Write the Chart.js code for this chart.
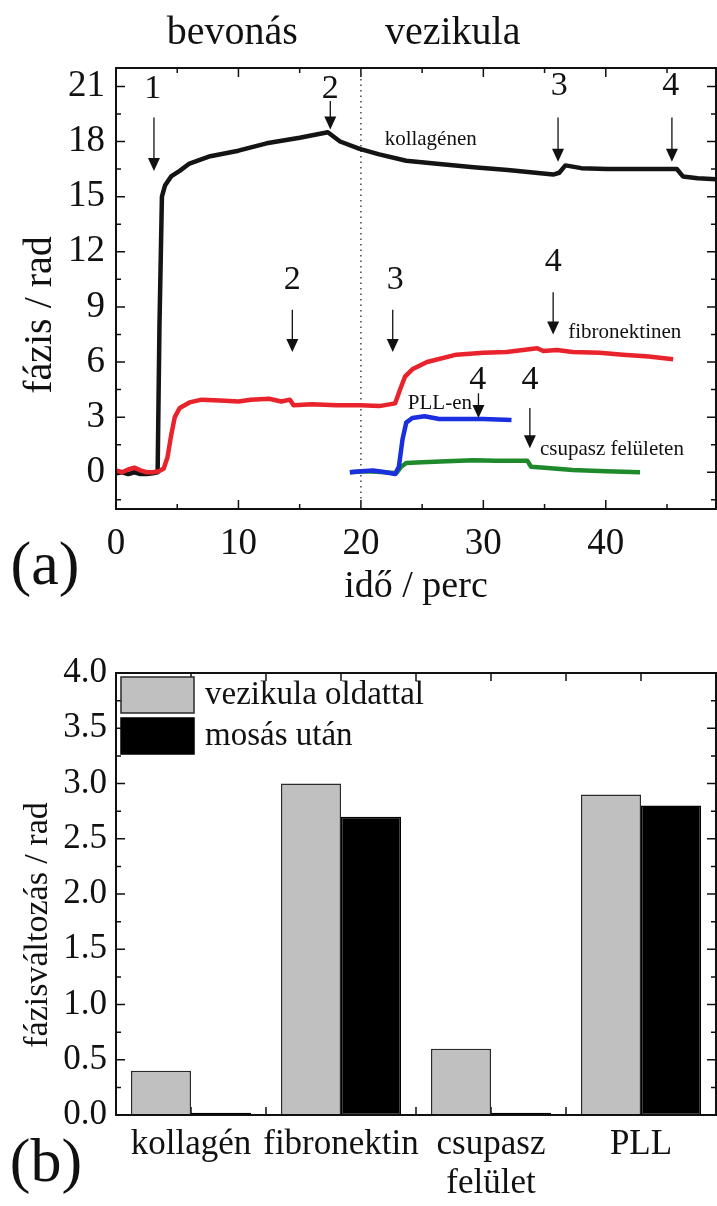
<!DOCTYPE html>
<html lang="hu">
<head>
<meta charset="utf-8">
<title>fázis / rad</title>
<script src="https://cdn.jsdelivr.net/npm/chart.js@4.4.1/dist/chart.umd.min.js"></script>
<style>
  html, body { margin: 0; padding: 0; background: #fff; }
  body { width: 717px; height: 1206px; position: relative; overflow: hidden; }
  #chart-time { position: absolute; left: 0; top: 0; }
  #chart-bars { position: absolute; left: 0; top: 620px; }
</style>
</head>
<body>
<canvas id="chart-time" width="717" height="620"></canvas>
<canvas id="chart-bars" width="717" height="586"></canvas>
<script>
var SERIF = "'Liberation Serif', 'Times New Roman', serif";
var INK = "#111";

// (a) fázis az idő függvényében
var kollagenTime  = [0, 0.5, 1, 1.5, 2, 2.5, 3, 3.4, 3.55, 3.75, 4, 4.5, 5.2, 6, 7.7, 10, 12.3, 15, 17.3, 18.3, 19.9, 21.5, 23.7, 26, 29.2, 32, 35.7, 36.2, 36.7, 38, 40.1, 43, 45.8, 46.3, 47.5, 49];
var kollagenPhase = [-0.05, 0, -0.1, 0, -0.1, -0.1, -0.05, 0, 8, 15, 15.6, 16.1, 16.4, 16.8, 17.2, 17.5, 17.9, 18.2, 18.5, 18.0, 17.6, 17.3, 16.95, 16.8, 16.6, 16.45, 16.2, 16.3, 16.7, 16.55, 16.5, 16.5, 16.5, 16.1, 16.0, 15.95];

var fibronektinTime  = [0, 0.5, 1, 1.5, 2, 2.5, 3, 3.5, 3.9, 4.2, 4.5, 4.8, 5.2, 6, 7, 8.5, 10, 11, 12.5, 13.5, 14.2, 14.5, 16, 18, 20, 21.5, 22.8, 23.2, 23.6, 24.2, 25.4, 27.8, 30, 31.9, 34.4, 34.9, 36, 37.3, 39.5, 41.4, 43.5, 45.5];
var fibronektinPhase = [0.1, 0, 0.15, 0.25, 0.1, 0, 0, 0.05, 0.2, 0.8, 2.0, 3.0, 3.5, 3.8, 3.95, 3.9, 3.85, 3.95, 4.0, 3.85, 3.95, 3.65, 3.7, 3.65, 3.65, 3.6, 3.75, 4.5, 5.2, 5.6, 6.0, 6.4, 6.5, 6.55, 6.75, 6.6, 6.65, 6.55, 6.5, 6.4, 6.3, 6.15];

var pllTime  = [19.1, 20, 21, 22, 22.8, 23.1, 23.4, 23.7, 24.2, 25.2, 26.4, 28, 30, 32.3];
var pllPhase = [0, 0.05, 0.1, 0, -0.1, 0.3, 1.8, 2.7, 2.95, 3.05, 2.9, 2.9, 2.9, 2.85];

var bareTime  = [19.1, 20.5, 22, 22.9, 23.3, 23.7, 25, 27, 29.2, 31, 33.6, 33.9, 35, 37.3, 40, 42.8];
var barePhase = [0, 0.05, 0, -0.05, 0.3, 0.5, 0.55, 0.6, 0.65, 0.62, 0.62, 0.3, 0.25, 0.12, 0.05, 0];

var timeTicks = [0, 10, 20, 30, 40];
var timeMinorTicks = [5, 15, 25, 35, 45];
var phaseTicks = [0, 3, 6, 9, 12, 15, 18, 21];
var phaseMinorTicks = [-1.5, 1.5, 4.5, 7.5, 10.5, 13.5, 16.5, 19.5];
var vesicleStart = 20;

// (b) fázisváltozás felületenként
var surfaces = ["kollagén", "fibronektin", ["csupasz", "felület"], "PLL"];
var withVesicle = [0.4, 3.0, 0.6, 2.9];
var afterWash = [0.02, 2.7, 0.02, 2.8];
var shiftTicks = [0, 0.5, 1.0, 1.5, 2.0, 2.5, 3.0, 3.5, 4.0];
var shiftMinorTicks = [0.25, 0.75, 1.25, 1.75, 2.25, 2.75, 3.25, 3.75];
var surfaceTicks = [0, 0.5, 1, 1.5, 2, 2.5, 3];

// annotations on (a), in data units
var stepLabels = [
  { text: "1", t: 3.0, v: 20.85 },
  { text: "2", t: 17.5, v: 20.85 },
  { text: "3", t: 36.2, v: 21.0 },
  { text: "4", t: 45.3, v: 21.0 },
  { text: "2", t: 14.4, v: 10.45 },
  { text: "3", t: 22.8, v: 10.45 },
  { text: "4", t: 35.7, v: 11.45 },
  { text: "4", t: 29.55, v: 5.0 },
  { text: "4", t: 33.8, v: 5.0 }
];
var stepArrows = [
  { t: 3.1, from: 19.3, to: 16.4 },
  { t: 17.5, from: 20.2, to: 18.65 },
  { t: 36.1, from: 19.3, to: 16.9 },
  { t: 45.4, from: 19.3, to: 16.9 },
  { t: 14.4, from: 8.84, to: 6.55 },
  { t: 22.6, from: 8.84, to: 6.55 },
  { t: 35.7, from: 9.8, to: 7.5 },
  { t: 29.6, from: 4.3, to: 2.95 },
  { t: 33.8, from: 3.5, to: 1.3 }
];
var curveNames = [
  { text: "kollagénen", t: 25.7, v: 18.1 },
  { text: "fibronektinen", t: 41.55, v: 7.6 },
  { text: "PLL-en", t: 26.45, v: 3.75 },
  { text: "csupasz felületen", t: 40.5, v: 1.25 }
];
var phases = [
  { text: "bevonás", t: 9.5 },
  { text: "vezikula", t: 27.5 }
];

Chart.defaults.font.family = SERIF;
Chart.defaults.color = INK;

function points(xs, ys) {
  return xs.map(function (x, i) { return { x: x, y: ys[i] }; });
}

function series(label, xs, ys, color) {
  return {
    label: label,
    data: points(xs, ys),
    borderColor: color,
    backgroundColor: color,
    borderWidth: 4.5,
    pointRadius: 0,
    tension: 0,
    borderJoinStyle: "round"
  };
}

function fixedTicks(values) {
  return function (scale) {
    scale.ticks = values.map(function (v) { return { value: v }; });
  };
}

function drawTickMarks(ctx, area, xScale, yScale, spec) {
  ctx.save();
  ctx.strokeStyle = INK;
  ctx.lineWidth = 1.5;
  ctx.beginPath();
  spec.x.forEach(function (item) {
    var px = xScale.getPixelForValue(item[0]);
    var len = item[1];
    ctx.moveTo(px, area.bottom);
    ctx.lineTo(px, area.bottom - len);
    ctx.moveTo(px, area.top);
    ctx.lineTo(px, area.top + len);
  });
  spec.y.forEach(function (item) {
    var py = yScale.getPixelForValue(item[0]);
    var len = item[1];
    ctx.moveTo(area.left, py);
    ctx.lineTo(area.left + len, py);
    ctx.moveTo(area.right, py);
    ctx.lineTo(area.right - len, py);
  });
  ctx.stroke();
  ctx.restore();
}

function drawFrame(ctx, area) {
  ctx.save();
  ctx.strokeStyle = INK;
  ctx.lineWidth = 2;
  ctx.strokeRect(area.left, area.top, area.right - area.left, area.bottom - area.top);
  ctx.restore();
}

function drawRotatedTitle(ctx, text, x, y, size) {
  ctx.save();
  ctx.translate(x, y);
  ctx.rotate(-Math.PI / 2);
  ctx.font = size + "px " + SERIF;
  ctx.fillStyle = INK;
  ctx.textAlign = "center";
  ctx.textBaseline = "middle";
  ctx.fillText(text, 0, 0);
  ctx.restore();
}

function drawArrow(ctx, x, y0, y1) {
  var head = 13;
  ctx.beginPath();
  ctx.moveTo(x, y0);
  ctx.lineTo(x, y1 - head + 1);
  ctx.stroke();
  ctx.beginPath();
  ctx.moveTo(x - 6, y1 - head);
  ctx.lineTo(x + 6, y1 - head);
  ctx.lineTo(x, y1);
  ctx.closePath();
  ctx.fill();
}

var timeDecor = {
  id: "timeDecor",
  beforeDatasetsDraw: function (chart) {
    var ctx = chart.ctx, area = chart.chartArea;
    var xs = chart.scales.x, ys = chart.scales.y;
    var spec = {
      x: timeTicks.map(function (v) { return [v, 9]; }).concat(timeMinorTicks.map(function (v) { return [v, 5]; })),
      y: phaseTicks.map(function (v) { return [v, 9]; }).concat(phaseMinorTicks.map(function (v) { return [v, 5]; }))
    };
    drawTickMarks(ctx, area, xs, ys, spec);

    var px = xs.getPixelForValue(vesicleStart);
    ctx.save();
    ctx.strokeStyle = "#444";
    ctx.lineWidth = 1.5;
    ctx.setLineDash([1.5, 4]);
    ctx.beginPath();
    ctx.moveTo(px, area.top);
    ctx.lineTo(px, area.bottom);
    ctx.stroke();
    ctx.restore();
  },
  afterDraw: function (chart) {
    var ctx = chart.ctx, area = chart.chartArea;
    var xs = chart.scales.x, ys = chart.scales.y;
    drawFrame(ctx, area);

    ctx.save();
    ctx.fillStyle = INK;
    ctx.strokeStyle = INK;
    ctx.lineWidth = 1.3;
    ctx.textAlign = "center";
    ctx.textBaseline = "middle";

    ctx.font = "34px " + SERIF;
    stepLabels.forEach(function (a) {
      ctx.fillText(a.text, xs.getPixelForValue(a.t), ys.getPixelForValue(a.v));
    });
    stepArrows.forEach(function (a) {
      drawArrow(ctx, xs.getPixelForValue(a.t), ys.getPixelForValue(a.from), ys.getPixelForValue(a.to));
    });

    ctx.font = "21px " + SERIF;
    curveNames.forEach(function (a) {
      ctx.fillText(a.text, xs.getPixelForValue(a.t), ys.getPixelForValue(a.v));
    });

    ctx.font = "40px " + SERIF;
    phases.forEach(function (p) {
      ctx.fillText(p.text, xs.getPixelForValue(p.t), 33);
    });

    ctx.font = "62px " + SERIF;
    ctx.fillText("(a)", 45, 568);
    ctx.restore();

    drawRotatedTitle(ctx, "fázis / rad", 40, 315, 40);
  }
};

new Chart(document.getElementById("chart-time"), {
  type: "line",
  data: {
    datasets: [
      series("PLL-en", pllTime, pllPhase, "#1a2fe0"),
      series("csupasz felületen", bareTime, barePhase, "#1f8a2c"),
      series("fibronektinen", fibronektinTime, fibronektinPhase, "#e8232b"),
      series("kollagénen", kollagenTime, kollagenPhase, "#141414")
    ]
  },
  options: {
    responsive: false,
    animation: false,
    layout: { padding: { top: 68, right: 1, left: 0, bottom: 0 } },
    plugins: { legend: { display: false }, tooltip: { enabled: false } },
    scales: {
      x: {
        type: "linear",
        min: 0,
        max: 49,
        grid: { display: false, drawTicks: false },
        border: { display: false },
        afterBuildTicks: fixedTicks(timeTicks),
        afterFit: function (s) { s.height = 111; },
        ticks: { font: { size: 37 }, padding: 13, maxRotation: 0 },
        title: {
          display: true,
          text: "idő / perc",
          font: { size: 38 },
          padding: { top: 0, bottom: 10 }
        }
      },
      y: {
        type: "linear",
        min: -2,
        max: 22,
        grid: { display: false, drawTicks: false },
        border: { display: false },
        afterBuildTicks: fixedTicks(phaseTicks),
        afterFit: function (s) { s.width = 116; },
        ticks: { font: { size: 37 }, padding: 11 }
      }
    }
  },
  plugins: [timeDecor]
});

var barDecor = {
  id: "barDecor",
  beforeDatasetsDraw: function (chart) {
    var ctx = chart.ctx, area = chart.chartArea;
    var spec = {
      x: surfaceTicks.map(function (v) { return [v, 8]; }),
      y: shiftTicks.map(function (v) { return [v, 9]; }).concat(shiftMinorTicks.map(function (v) { return [v, 5]; }))
    };
    drawTickMarks(ctx, area, chart.scales.x, chart.scales.y, spec);
  },
  afterDraw: function (chart) {
    var ctx = chart.ctx, area = chart.chartArea;
    drawFrame(ctx, area);

    ctx.save();
    ctx.font = "33px " + SERIF;
    ctx.textBaseline = "middle";
    ctx.textAlign = "left";
    chart.data.datasets.forEach(function (ds, i) {
      var bx = area.left + 5, by = area.top + 4 + i * 41;
      ctx.fillStyle = ds.backgroundColor;
      ctx.fillRect(bx, by, 73, 36);
      ctx.strokeStyle = ds.borderColor;
      ctx.lineWidth = 1.5;
      ctx.strokeRect(bx, by, 73, 36);
      ctx.fillStyle = INK;
      ctx.fillText(ds.label, bx + 84, by + 18);
    });

    ctx.textAlign = "center";
    ctx.font = "62px " + SERIF;
    ctx.fillText("(b)", 46, 545);
    ctx.restore();

    drawRotatedTitle(ctx, "fázisváltozás / rad", 38, 305, 34);
  }
};

new Chart(document.getElementById("chart-bars"), {
  type: "bar",
  data: {
    labels: surfaces,
    datasets: [
      {
        label: "vezikula oldattal",
        data: withVesicle,
        backgroundColor: "#c0c0c0",
        borderColor: "#2a2a2a",
        borderWidth: 1.5
      },
      {
        label: "mosás után",
        data: afterWash,
        backgroundColor: "#000000",
        borderColor: "#000000",
        borderWidth: 1.5,
        borderSkipped: false
      }
    ]
  },
  options: {
    responsive: false,
    animation: false,
    datasets: { bar: { categoryPercentage: 0.8, barPercentage: 1.0 } },
    layout: { padding: { top: 53, right: 1, left: 0, bottom: 0 } },
    plugins: { legend: { display: false }, tooltip: { enabled: false } },
    scales: {
      x: {
        grid: { display: false, drawTicks: false },
        border: { display: false },
        afterFit: function (s) { s.height = 91; },
        ticks: { font: { size: 35, lineHeight: 1.1 }, padding: 11, maxRotation: 0, autoSkip: false }
      },
      y: {
        min: 0,
        max: 4,
        grid: { display: false, drawTicks: false },
        border: { display: false },
        afterBuildTicks: fixedTicks(shiftTicks),
        afterFit: function (s) { s.width = 116; },
        ticks: {
          font: { size: 35 },
          padding: 9,
          callback: function (v) { return Number(v).toFixed(1); }
        }
      }
    }
  },
  plugins: [barDecor]
});
</script>
</body>
</html>
